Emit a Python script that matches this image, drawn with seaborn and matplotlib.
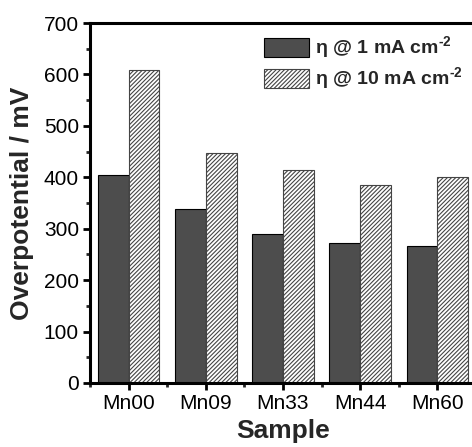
import numpy as np
import pandas as pd
import matplotlib
matplotlib.use("Agg")
import matplotlib.pyplot as plt
import seaborn as sns
from matplotlib.patches import Patch
from matplotlib.ticker import MultipleLocator, FixedLocator

samples = ['Mn00', 'Mn09', 'Mn33', 'Mn44', 'Mn60']
eta_1 = [404, 338, 289, 272, 267]
eta_10 = [609, 447, 415, 385, 401]
series = ['η @ 1 mA cm$^{\\text{-2}}$', 'η @ 10 mA cm$^{\\text{-2}}$']

df = pd.DataFrame({
    'Sample': samples * 2,
    'value': eta_1 + eta_10,
    'series': [series[0]] * len(samples) + [series[1]] * len(samples),
})

sns.set_style('ticks')
plt.rcParams['font.family'] = ['Liberation Sans', 'DejaVu Sans']
plt.rcParams['mathtext.fontset'] = 'custom'
plt.rcParams['mathtext.rm'] = 'Liberation Sans:bold'
plt.rcParams['mathtext.bf'] = 'Liberation Sans:bold'
plt.rcParams['hatch.linewidth'] = 0.8
plt.rcParams['hatch.color'] = '#333333'

fig = plt.figure(figsize=(4.72, 4.47), dpi=100)
ax = fig.add_axes([90 / 472, 64 / 447, 386 / 472, 360 / 447])

dark = '#4d4d4d'
hatch = '////////'
sns.barplot(data=df, x='Sample', y='value', hue='series', hue_order=series,
            palette=[dark, 'white'], width=0.8, ax=ax, legend=False,
            saturation=1)

n = len(samples)
for i, p in enumerate(ax.patches[:2 * n]):
    if i < n:
        p.set_edgecolor('black')
        p.set_linewidth(0.8)
    else:
        p.set_hatch(hatch)
        p.set_edgecolor('#444444')
        p.set_linewidth(0.8)

ax.set_xlim(-0.5, n - 0.5)
ax.set_ylim(0, 700)
ax.yaxis.set_major_locator(MultipleLocator(100))
ax.yaxis.set_minor_locator(MultipleLocator(50))
ax.xaxis.set_minor_locator(FixedLocator(np.arange(-0.5, n, 1.0)))

for side in ['left', 'bottom', 'top', 'right']:
    ax.spines[side].set_visible(True)
    ax.spines[side].set_linewidth(2.2)
    ax.spines[side].set_color('black')

ax.tick_params(axis='both', which='major', direction='out', length=5, width=2,
               labelsize=15, colors='black', pad=3)
ax.tick_params(axis='both', which='minor', direction='out', length=3, width=2)

ax.set_xlabel('Sample', fontsize=19, fontweight='bold', labelpad=4)
ax.set_ylabel('Overpotential / mV', fontsize=19, fontweight='bold', labelpad=7)

handles = [Patch(facecolor=dark, edgecolor='black', linewidth=0.8),
           Patch(facecolor='white', edgecolor='#444444', hatch=hatch, linewidth=0.8)]
leg = ax.legend(handles, series, loc='upper right', bbox_to_anchor=(0.995, 1.0),
                frameon=False, prop={'size': 14, 'weight': 'bold'},
                handlelength=2.3, handleheight=1.1, handletextpad=0.3,
                labelspacing=0.2, borderaxespad=0.2)

fig.savefig('out.png', dpi=100)
